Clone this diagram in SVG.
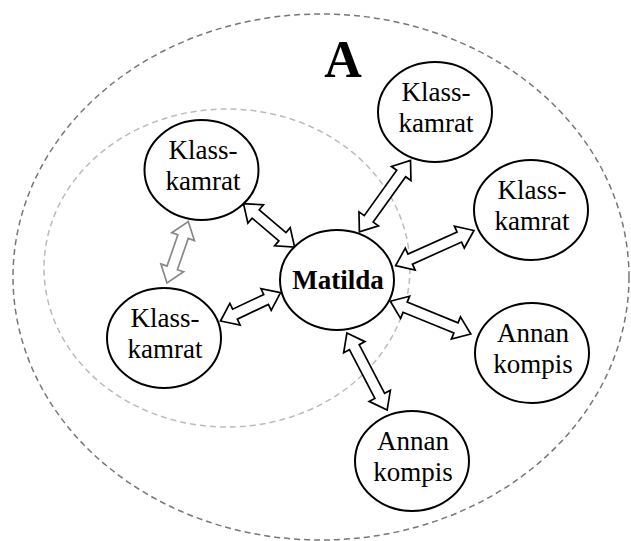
<svg xmlns="http://www.w3.org/2000/svg" width="631" height="541" viewBox="0 0 631 541">
  <style>
    .zone-outer { fill: none; stroke: #777; stroke-width: 1.5; stroke-dasharray: 6 4; }
    .zone-inner { fill: none; stroke: #bbb; stroke-width: 1.5; stroke-dasharray: 6 4; }
    .node { fill: #fff; stroke: #000; stroke-width: 2; }
    .label { font-family: "Liberation Serif", "Times New Roman", serif; font-size: 27px; fill: #000; text-anchor: middle; }
    .bold { font-weight: bold; }
    .title { font-family: "Liberation Serif", "Times New Roman", serif; font-size: 52px; font-weight: bold; text-anchor: middle; }
    .arrow { fill: #fff; stroke: #000; stroke-width: 1.7; stroke-linejoin: miter; }
    .arrow-soft { fill: #fff; stroke: #888; stroke-width: 1.7; stroke-linejoin: miter; }
  </style>

  <!-- circles of relations -->
  <ellipse class="zone-outer" cx="321" cy="277" rx="308" ry="263"/>
  <ellipse class="zone-inner" cx="227" cy="268" rx="183" ry="159"/>

  <text class="title" x="343" y="77">A</text>

  <!-- double-headed block arrows -->
  <g id="connectors">
    <path class="arrow" transform="translate(243.5,203.6) rotate(40.4)" d="M0,0 L16,-12 L16,-5.5 L51.1,-5.5 L51.1,-12 L67.1,0 L51.1,12 L51.1,5.5 L16,5.5 L16,12 Z"/>
    <path class="arrow" transform="translate(359.4,231.9) rotate(-54.4)" d="M0,0 L16,-12 L16,-5.5 L71.8,-5.5 L71.8,-12 L87.8,0 L71.8,12 L71.8,5.5 L16,5.5 L16,12 Z"/>
    <path class="arrow" transform="translate(395.6,265.7) rotate(-24.2)" d="M0,0 L16,-12 L16,-5.5 L69.9,-5.5 L69.9,-12 L85.9,0 L69.9,12 L69.9,5.5 L16,5.5 L16,12 Z"/>
    <path class="arrow" transform="translate(390.3,301.2) rotate(22.2)" d="M0,0 L16,-12 L16,-5.5 L70.9,-5.5 L70.9,-12 L86.9,0 L70.9,12 L70.9,5.5 L16,5.5 L16,12 Z"/>
    <path class="arrow" transform="translate(346.9,333) rotate(62.4)" d="M0,0 L16,-12 L16,-5.5 L70.9,-5.5 L70.9,-12 L86.9,0 L70.9,12 L70.9,5.5 L16,5.5 L16,12 Z"/>
    <path class="arrow" transform="translate(220.5,321) rotate(-25.3)" d="M0,0 L16,-12 L16,-5.5 L50.4,-5.5 L50.4,-12 L66.4,0 L50.4,12 L50.4,5.5 L16,5.5 L16,12 Z"/>
    <path class="arrow-soft" transform="translate(167,283) rotate(-70.9)" d="M0,0 L16,-12 L16,-5.5 L49.1,-5.5 L49.1,-12 L65.1,0 L49.1,12 L49.1,5.5 L16,5.5 L16,12 Z"/>
  </g>

  <g id="matilda">
    <ellipse class="node" cx="337" cy="280" rx="57" ry="50"/>
    <text class="label bold" x="338" y="289">Matilda</text>
  </g>

  <g id="klasskamrat-1">
    <ellipse class="node" cx="201.5" cy="170" rx="57" ry="50"/>
    <text class="label" x="203" y="159">Klass-</text>
    <text class="label" x="203" y="190">kamrat</text>
  </g>

  <g id="klasskamrat-2">
    <ellipse class="node" cx="164" cy="338" rx="57" ry="50"/>
    <text class="label" x="165" y="327">Klass-</text>
    <text class="label" x="165" y="358">kamrat</text>
  </g>

  <g id="klasskamrat-3">
    <ellipse class="node" cx="435" cy="112" rx="57" ry="50"/>
    <text class="label" x="436" y="101">Klass-</text>
    <text class="label" x="436" y="132">kamrat</text>
  </g>

  <g id="klasskamrat-4">
    <ellipse class="node" cx="531" cy="210" rx="57" ry="50"/>
    <text class="label" x="532" y="199">Klass-</text>
    <text class="label" x="532" y="230">kamrat</text>
  </g>

  <g id="annan-kompis-1">
    <ellipse class="node" cx="532" cy="353" rx="57" ry="50"/>
    <text class="label" x="533" y="342">Annan</text>
    <text class="label" x="533" y="373">kompis</text>
  </g>

  <g id="annan-kompis-2">
    <ellipse class="node" cx="412" cy="461" rx="57" ry="50"/>
    <text class="label" x="413" y="450">Annan</text>
    <text class="label" x="413" y="481">kompis</text>
  </g>
</svg>
